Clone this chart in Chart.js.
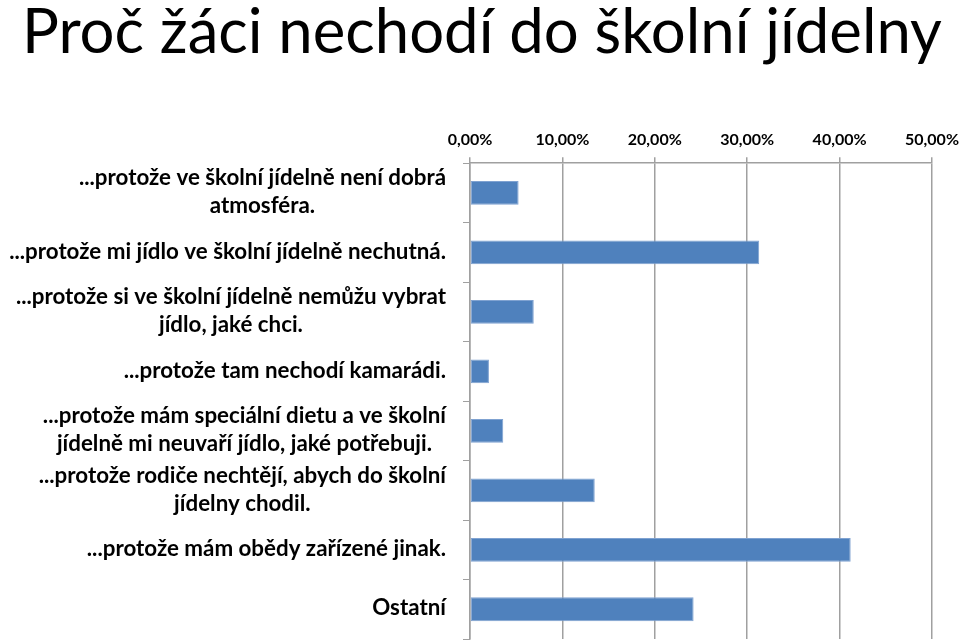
<!DOCTYPE html>
<html><head><meta charset="utf-8">
<script src="https://cdn.jsdelivr.net/npm/chart.js@4/dist/chart.umd.min.js"></script>
<style>
html,body{margin:0;padding:0;background:#fff;}
#wrap{position:relative;width:960px;height:642px;overflow:hidden;}
#title{position:absolute;left:22px;top:-8px;font-family:Lato,'Open Sans',sans-serif;font-size:60px;color:#000;white-space:nowrap;line-height:1.2;}
canvas{position:absolute;left:0;top:0;}
</style></head><body>
<div id="wrap"><canvas id="c" width="960" height="642"></canvas><div id="title">Proč žáci nechodí do školní jídelny</div></div>
<script>
const categories = [
  ['...protože ve školní jídelně není dobrá', 'atmosféra.'],
  ['...protože mi jídlo ve školní jídelně nechutná.'],
  ['...protože si ve školní jídelně nemůžu vybrat', 'jídlo, jaké chci.'],
  ['...protože tam nechodí kamarádi.'],
  ['...protože mám speciální dietu a ve školní', 'jídelně mi neuvaří jídlo, jaké potřebuji.'],
  ['...protože rodiče nechtějí, abych do školní', 'jídelny chodil.'],
  ['...protože mám obědy zařízené jinak.'],
  ['Ostatní']
];
const values = [0.0526, 0.313, 0.069, 0.0205, 0.036, 0.135, 0.412, 0.242];
const xMin = 0, xMax = 0.5, xStep = 0.1;

// fit title width
const t = document.getElementById('title');
const tw = t.getBoundingClientRect().width;
t.style.fontSize = (60 * 920 / tw) + 'px';

const mctx = document.createElement('canvas').getContext('2d');
mctx.font = 'bold 20px Lato';
const refW = mctx.measureText('...protože mi jídlo ve školní jídelně nechutná.').width;
const fs = 20 * 437 / refW;

const catLabels = {
  id: 'catLabels',
  afterDraw(chart) {
    const ctx = chart.ctx, y = chart.scales.y;
    ctx.save();
    ctx.font = 'bold ' + fs + 'px Lato';
    ctx.fillStyle = '#000';
    ctx.textAlign = 'center';
    ctx.textBaseline = 'middle';
    const right = chart.chartArea.left - 24;
    const lh = fs * 1.25;
    categories.forEach((lines, i) => {
      const cy = y.getPixelForValue(i) - 1;
      const w = Math.max(...lines.map(l => ctx.measureText(l).width));
      const cx = right - w / 2;
      lines.forEach((l, j) => ctx.fillText(l, cx, cy + (j - (lines.length - 1) / 2) * lh));
    });
    ctx.restore();
  }
};

new Chart(document.getElementById('c'), {
  type: 'bar',
  data: {
    labels: categories.map(c => c.join(' ')),
    datasets: [{
      data: values,
      backgroundColor: '#4F81BD',
      borderColor: '#7FA2D1',
      borderWidth: 1,
      borderSkipped: false,
      barPercentage: 0.4,
      categoryPercentage: 1
    }]
  },
  options: {
    indexAxis: 'y',
    responsive: false,
    animation: false,
    layout: { padding: { top: 122, right: 28, bottom: 3, left: 0 } },
    plugins: { legend: { display: false }, tooltip: { enabled: false } },
    scales: {
      x: {
        type: 'linear', position: 'top', min: xMin, max: xMax,
        ticks: {
          stepSize: xStep, color: '#000', padding: 8,
          font: { family: 'Lato', weight: 'bold', size: 16 },
          callback: v => (v * 100).toFixed(2).replace('.', ',') + '%'
        },
        grid: { color: '#a0a0a0', tickLength: 6, lineWidth: 1.5 },
        border: { color: '#a0a0a0', width: 1.5 },
        afterFit: s => { s.paddingRight = 0; s.paddingLeft = 0; }
      },
      y: {
        type: 'category', offset: true,
        ticks: { display: false },
        grid: { drawOnChartArea: false, color: '#a0a0a0', tickLength: 7, offset: true },
        border: { color: '#a0a0a0', width: 1.5 },
        afterFit: s => { s.width = 470; }
      }
    }
  },
  plugins: [catLabels]
});
</script>
</body></html>
